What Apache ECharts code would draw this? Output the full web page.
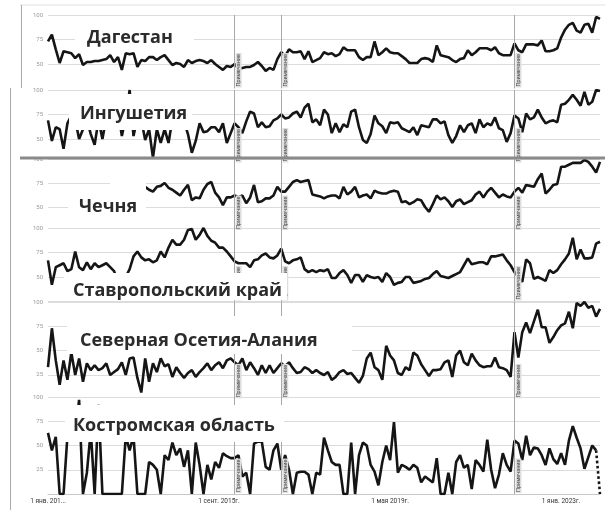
<!DOCTYPE html>
<html><head><meta charset="utf-8">
<script src="https://cdn.jsdelivr.net/npm/echarts@6/dist/echarts.min.js"></script>
<style>html,body{margin:0;padding:0;background:#fff}#c{width:605px;height:510px}</style>
</head><body><div id="c"></div><script>
const regions = ['Дагестан','Ингушетия','Чечня','Ставропольский край','Северная Осетия-Алания','Костромская область'];
const tickLabels = ['1 янв. 201...','1 сент. 2015г.','1 мая 2019г.','1 янв. 2023г.'];
const noteLabel = 'Примечание';
const noteMonths = ['2016-01','2017-01','2022-01'];

const dagestan = [73,80,65,51,63,62,61,56,60,49, 52,52,53,53,54,55,59,52,57,44, 61,60,61,47,54,53,57,57,54,57, 59,54,49,51,50,47,54,51,53,54, 53,51,54,50,47,44,48,47,50,45, 46,47,47,49,52,48,43,46,44,55, 62,58,65,62,62,63,55,63,52,54, 56,62,60,61,58,60,67,64,64,64, 57,54,57,57,73,59,62,66,62,61, 61,58,55,51,51,51,55,56,55,52, 69,59,58,57,54,52,55,56,64,59, 62,66,66,66,64,67,61,59,59,59, 71,64,62,70,70,70,69,74,63,63, 64,66,77,85,90,92,84,82,90,91, 82,98,96];
const ingushetia = [69,48,62,60,40,66,74,70,50,60, 70,55,44,70,50,72,75,68,80,53, 72,100,53,72,70,49,60,31,60,46, 60,46,70,70,72,68,55,36,48,66, 57,58,62,62,57,66,46,56,66,62, 56,68,78,76,62,67,62,63,69,71, 75,71,72,76,78,72,82,86,67,70, 64,80,75,56,66,57,65,62,78,80, 62,49,46,55,74,66,63,56,67,66, 67,61,59,57,62,54,64,63,62,70, 70,66,68,54,46,53,64,57,64,66, 56,70,62,66,64,72,61,59,47,56, 74,71,57,76,70,72,80,72,66,68, 69,67,85,86,90,95,90,84,98,85, 88,100,99];
const chechnya = [null,null,null,null,null,null,null,null,null,null, null,null,null,null,null,null,null,null,null,null, null,null,null,null,null,
 71,68,66,71,72,75,70,68,65,62, 68,73,57,60,59,68,74,76,65,60, 52,60,60,62,60,62,54,60,73,55, 56,59,59,62,71,66,66,71,76,78, 76,77,78,63,62,61,59,61,62,62, 59,71,63,66,71,60,62,63,59,67, 65,64,64,66,67,66,55,56,53,55, 58,57,50,45,53,62,58,60,56,50, 56,58,53,55,57,63,66,60,66,70, 65,60,63,61,60,66,70,65,73,72, 71,79,85,64,68,73,74,92,92,94, 96,96,96,99,97,92,86,97];
const stavropol = [67,42,60,62,64,56,58,76,60,57, 65,58,64,60,62,64,60,56,45,48, 50,58,71,76,70,67,68,65,67,76, 70,80,88,83,83,88,98,99,88,93, 100,92,87,85,80,80,76,71,66,64, 64,64,60,67,68,72,74,70,69,72, 79,66,64,67,68,70,58,55,57,55, 57,56,58,49,49,54,57,52,44,52, 52,45,52,50,49,50,45,54,50,42, 44,45,50,50,44,45,46,48,49,53, 56,51,50,49,51,53,55,62,69,63, 64,65,65,63,71,71,72,73,67,62, 55,50,45,68,64,48,50,48,46,57, 54,57,63,68,74,90,68,78,69,69, 70,84,86];
const osetia = [33,73,40,15,40,20,48,25,42,18, 37,30,35,30,32,37,25,28,31,38, 25,42,43,22,7,42,18,37,28,42, 34,36,23,33,27,22,27,30,23,28, 32,37,30,35,38,32,40,42,38,35, 42,30,38,32,25,35,27,35,27,32, 37,34,38,32,27,28,33,31,27,30, 27,25,28,20,23,28,30,26,27,22, 17,24,42,48,33,30,20,55,45,40, 27,25,33,30,48,45,36,30,24,30, 30,31,38,40,23,45,50,38,35,47, 40,35,33,34,34,43,33,32,
 30,23,69,43,69,79,68,80,92,74, 74,58,64,71,76,78,90,73,99,96, 100,94,96,85,93];
const kostroma = [63,45,59,0,0,60,60,62,97,0, 22,65,0,92,0,0,0,0,0,0, 60,45,60,0,0,0,33,30,25,0, 40,35,53,40,47,28,45,0,53,30, 0,30,15,33,27,42,39,37,37,40, 18,22,0,52,54,54,28,25,45,52, 25,40,25,0,22,23,23,20,0,22, 20,58,45,33,30,30,0,0,53,0, 40,53,50,30,23,9,33,50,35,74, 22,30,28,25,30,27,12,18,15,12, 37,0,0,22,0,33,40,27,30,5, 35,30,23,56,25,6,20,42,30,23, 55,52,35,60,40,48,47,40,30,47, 36,31,42,30,55,70,58,47,26,38, 50,45,0];
const seriesData = [dagestan, ingushetia, chechnya, stavropol, osetia, kostroma];

const months = [];
for (let i = 0; i < dagestan.length; i++) {
  const y = 2012 + Math.floor(i / 12), m = i % 12 + 1;
  months.push(y + '-' + String(m).padStart(2, '0'));
}

// layout only
const panels = [
  {top:15,  height:73.5, min:25, hideMin:true},
  {top:90,  height:73.5, min:25, hideMin:true},
  {top:159, height:72,   min:25, hideMin:true},
  {top:228, height:73.5, min:25, hideMin:false},
  {top:302, height:97.3, min:0,  hideMin:true},
  {top:397, height:97,   min:0,  hideMin:false}
];
const titlePos = [[87,38],[80,114],[79,207],[73,290.5],[80,341],[73,426]];
const boxes = [
  [75,24,119,28],[69,94,123,36],[68,192,78,34],[110,172,36,20],[64,273,223,27],[67,316,285,38],[65,405,219,37]
];

const grids = [], xAxes = [], yAxes = [], series = [];
panels.forEach((p, i) => {
  grids.push({left:48, right:5, top:p.top, height:p.height});
  const last = i === panels.length - 1;
  xAxes.push({
    gridIndex:i, type:'category', data:months, boundaryGap:false, show:last,
    axisLine:{show:true, lineStyle:{color:'#c8c8c8'}}, axisTick:{show:false},
    axisLabel:{interval:43, fontSize:6.5, color:'#333', margin:4,
      formatter:(v, idx) => tickLabels[idx / 44] || ''}
  });
  const lineColors = p.hideMin ? ['rgba(0,0,0,0)','#dcdcdc','#dcdcdc','#dcdcdc','#dcdcdc'] : '#dcdcdc';
  yAxes.push({
    gridIndex:i, type:'value', min:p.min, max:100, interval:25,
    axisLine:{show:false}, axisTick:{show:false},
    axisLabel:{fontSize:6, color:'#999', margin:5, formatter:v => v === p.min ? '' : String(v)},
    splitLine:{lineStyle:{color:lineColors, width:1}}
  });
  const data = last ? seriesData[i].slice(0, seriesData[i].length - 1) : seriesData[i];
  series.push({
    type:'line', xAxisIndex:i, yAxisIndex:i, data:data, symbol:'none', name:regions[i],
    lineStyle:{color:'#151515', width:2.6}, z:3,
    markLine:{silent:true, symbol:'none', animation:false,
      lineStyle:{color:'#a8a8a8', width:1, type:'solid'},
      label:{show:true, formatter:noteLabel, position:'insideStartBottom', fontSize:5.5, color:'#444',
        backgroundColor:'#dedede', padding:[0,1], distance:1},
      data:noteMonths.map(m => ({xAxis:m}))}
  });
  if (last) {
    const src = seriesData[i], n = src.length;
    const partial = src.map((v, k) => (k >= n - 2 ? v : null));
    series.push({type:'line', xAxisIndex:i, yAxisIndex:i, data:partial, symbol:'none',
      lineStyle:{color:'#151515', width:2.6, type:'dotted'}, z:3});
  }
});

const graphic = [
  {type:'line', shape:{x1:20,y1:5,x2:605,y2:5}, style:{stroke:'#e0e0e0', lineWidth:1}, z:50},
  {type:'line', shape:{x1:21.5,y1:5,x2:21.5,y2:88}, style:{stroke:'#aaa', lineWidth:1}, z:50},
  {type:'line', shape:{x1:10.5,y1:88,x2:10.5,y2:510}, style:{stroke:'#aaa', lineWidth:1}, z:50},
  {type:'line', shape:{x1:20,y1:158,x2:605,y2:158}, style:{stroke:'#8a8a8a', lineWidth:3}, z:60}
];
boxes.forEach(b => graphic.push({type:'rect', shape:{x:b[0], y:b[1], width:b[2], height:b[3]}, style:{fill:'#fff'}, z:100}));
regions.forEach((r, i) => graphic.push({type:'text', x:titlePos[i][0], y:titlePos[i][1], z:101,
  style:{text:r, fill:'#2b2b2b', font:'bold 18px "Open Sans"', align:'left', verticalAlign:'middle'}}));

const chart = echarts.init(document.getElementById('c'));
chart.setOption({
  animation:false,
  backgroundColor:'#fff',
  textStyle:{fontFamily:'Roboto'},
  grid:grids, xAxis:xAxes, yAxis:yAxes, series:series, graphic:graphic
});
</script></body></html>
